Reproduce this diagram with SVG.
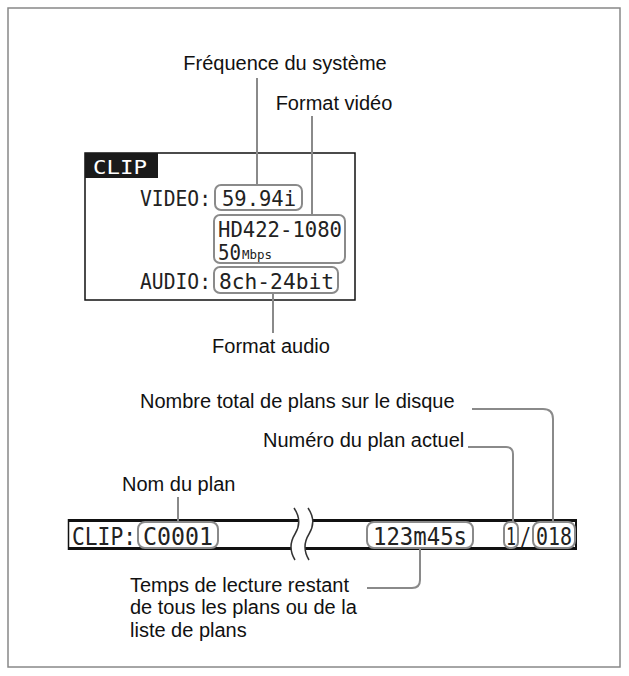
<svg xmlns="http://www.w3.org/2000/svg" width="629" height="676" viewBox="0 0 629 676">
<style>
.lbl{font-family:"Liberation Sans",Arial,sans-serif;font-size:20px;fill:#111}
.mono{font-family:"DejaVu Sans Mono","Liberation Mono",monospace;fill:#222}
.ld{fill:none;stroke:#8a8a8a;stroke-width:2}
.bx{fill:none;stroke:#8a8a8a;stroke-width:2}
</style>
<rect x="8" y="8" width="612" height="659" fill="#fff" stroke="#888" stroke-width="1.5"/>
<g id="clip-panel">
<rect x="85" y="153" width="270" height="147" fill="#fff" stroke="#111" stroke-width="1.5"/>
<rect x="85" y="153" width="73" height="25" fill="#1a1a1a"/>
<text x="93" y="174" class="mono" font-size="20" style="fill:#fff" textLength="54" lengthAdjust="spacingAndGlyphs">CLIP</text>
<text x="140" y="206" class="mono" font-size="22" textLength="71" lengthAdjust="spacingAndGlyphs">VIDEO:</text>
<text x="140" y="289" class="mono" font-size="22" textLength="71" lengthAdjust="spacingAndGlyphs">AUDIO:</text>
</g>
<g id="freq"><rect x="215" y="185" width="87" height="25" rx="6" class="bx"/><text x="222" y="206" class="mono" font-size="22" textLength="74" lengthAdjust="spacingAndGlyphs">59.94i</text></g>
<g id="fmt"><rect x="214" y="215" width="131" height="48" rx="6" class="bx"/><text x="218" y="237" class="mono" font-size="21" textLength="124" lengthAdjust="spacingAndGlyphs">HD422-1080</text><text x="218" y="260" class="mono" font-size="21" textLength="23" lengthAdjust="spacingAndGlyphs">50</text><text x="242" y="259" class="mono" font-size="13" textLength="30" lengthAdjust="spacingAndGlyphs">Mbps</text></g>
<g id="audio"><rect x="214" y="267" width="124" height="26" rx="6" class="bx"/><text x="219" y="289" class="mono" font-size="22" textLength="115" lengthAdjust="spacingAndGlyphs">8ch-24bit</text></g>
<g id="bar">
<rect x="68" y="519" width="509" height="31" fill="#fff"/>
<line x1="68" y1="520.5" x2="577" y2="520.5" stroke="#111" stroke-width="3"/>
<line x1="68" y1="548.5" x2="577" y2="548.5" stroke="#111" stroke-width="3"/>
<line x1="68.5" y1="519" x2="68.5" y2="550" stroke="#111" stroke-width="1.5"/>
<line x1="576" y1="519" x2="576" y2="550" stroke="#111" stroke-width="2"/>
<path d="M294 508 Q303 521 295 534 Q287 547 295 560 L309 560 Q301 547 309 534 Q317 521 308 508 Z" fill="#fff"/>
<path d="M294 508 Q303 521 295 534 Q287 547 295 560 M308 508 Q317 521 309 534 Q301 547 309 560" fill="none" stroke="#333" stroke-width="1.5"/>
<text x="72" y="545" class="mono" font-size="24" textLength="64" lengthAdjust="spacingAndGlyphs">CLIP:</text>
<rect x="138" y="522" width="80" height="26" rx="7" class="bx"/><text x="143" y="545" class="mono" font-size="24" textLength="70" lengthAdjust="spacingAndGlyphs">C0001</text>
<rect x="367" y="522" width="106" height="26" rx="7" class="bx"/><text x="373" y="545" class="mono" font-size="24" textLength="94" lengthAdjust="spacingAndGlyphs">123m45s</text>
<rect x="504" y="522" width="14" height="26" rx="6" class="bx"/><text x="506" y="545" class="mono" font-size="24" textLength="10" lengthAdjust="spacingAndGlyphs">1</text>
<text x="520" y="545" class="mono" font-size="24" textLength="11" lengthAdjust="spacingAndGlyphs">/</text>
<rect x="533" y="522" width="42" height="26" rx="7" class="bx"/><text x="536" y="545" class="mono" font-size="24" textLength="36" lengthAdjust="spacingAndGlyphs">018</text>
</g>
<g id="connectors">
<path class="ld" d="M257 78 V185"/>
<path class="ld" d="M312 116 V215"/>
<path class="ld" d="M273 293 V333"/>
<path class="ld" d="M472 409 H543 Q553 409 553 419 V522"/>
<path class="ld" d="M468 447 H506 Q513 447 513 454 V522"/>
<path class="ld" d="M178 497 V522"/>
<path class="ld" d="M367 588 H412 Q420 588 420 580 V548"/>
</g>
<g id="labels">
<text x="285" y="70" class="lbl" text-anchor="middle">Fréquence du système</text>
<text x="334" y="110" class="lbl" text-anchor="middle">Format vidéo</text>
<text x="271" y="353" class="lbl" text-anchor="middle">Format audio</text>
<text x="140" y="408" class="lbl">Nombre total de plans sur le disque</text>
<text x="263" y="447" class="lbl">Numéro du plan actuel</text>
<text x="122" y="491" class="lbl">Nom du plan</text>
<text x="130" y="592" class="lbl">Temps de lecture restant</text>
<text x="130" y="614" class="lbl">de tous les plans ou de la</text>
<text x="130" y="637" class="lbl">liste de plans</text>
</g>
</svg>
